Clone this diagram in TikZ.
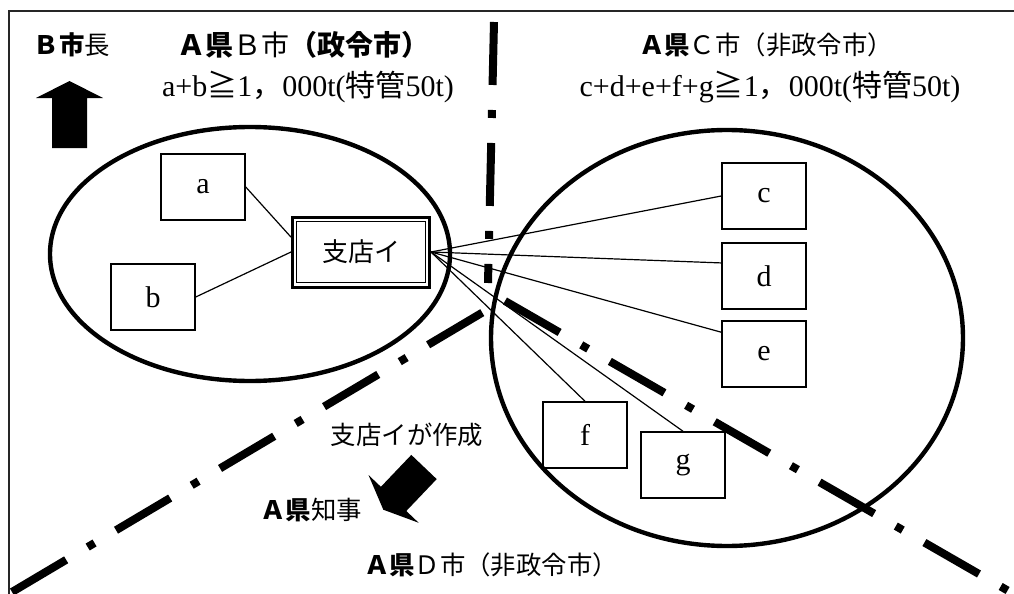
\documentclass[tikz,border=0pt]{standalone}
\usepackage{fontspec}
\setmainfont{Liberation Serif}
\newfontfamily\jp{Noto Sans CJK JP}
\newcommand\bj[1]{{\jp\bfseries #1}}
\newcommand\nj[1]{{\jp #1}}

\begin{document}
\begin{tikzpicture}[x=0.5pt, y=-0.5pt,
  box/.style={draw, line width=0.75pt, minimum width=42pt, minimum height=33pt, inner sep=0pt, font=\fontsize{15}{17}\selectfont},
  branch/.style={draw, line width=1.5pt, minimum width=68.5pt, minimum height=35pt, inner sep=0pt, font=\jp\fontsize{13}{15}\selectfont},
  zone/.style={line width=2.2pt},
  boundary/.style={line width=4pt, dash pattern=on 31.5pt off 12.5pt on 4pt off 12.5pt},
  link/.style={line width=0.6pt},
  lbl/.style={font=\fontsize{12.7}{14}\selectfont, inner sep=0pt},
  sum/.style={font=\fontsize{15}{17}\selectfont, inner sep=0pt}]
\useasboundingbox (0,0) rectangle (1014,594);
\draw[line width=1.2pt, black!85] (9,594) -- (9,11) -- (1014,11);

\draw[boundary] (494,22) -- (488,283);
\draw[boundary] (12,592) -- (485,311);
\draw[boundary] (505,301) -- (1012,593);

\draw[zone] (250,254) ellipse [x radius=100pt, y radius=63.5pt];
\draw[zone] (727,338) ellipse [x radius=118pt, y radius=104pt];

\node[box] (a) at (203,187) {a};
\node[box] (b) at (153,297) {b};
\node[branch] (shiten) at (361,252) {支店イ};
\node[draw, line width=0.6pt, minimum width=64.5pt, minimum height=30.5pt] (shitenin) at (shiten) {};
\node[box] (c) at (764,196) {c};
\node[box] (d) at (764,276) {d};
\node[box] (e) at (764,354) {e};
\node[box] (f) at (585,435) {f};
\node[box] (g) at (683,465) {g};

\draw[link] (a.east) -- (shiten.168);
\draw[link] (b.east) -- (shiten.west);
\foreach \t/\a in {c/west, d/163, e/153, f/north, g/north}
  \draw[link] (shiten.east) -- (\t.\a);

\fill (52,148) -- (52,98) -- (36,98) -- (69.5,81) -- (103,98) -- (87,98) -- (87,148) -- cycle;
\fill (436.7,479.1) -- (411.3,454.9) -- (380.9,486.8) -- (368.5,475.0) -- (383.3,509.7) -- (418.7,522.8) -- (406.3,511.0) -- cycle;

\node[lbl] (mayorB) at (72,45) {\bj{Ｂ市}\nj{長}};
\node[lbl, font=\fontsize{14}{16}\selectfont] (cityB) at (303,45) {\bj{Ａ県}\nj{Ｂ市}\bj{（政令市）}};
\node[sum] (sumB) at (308,87) {a+b\nj{≧}1\nj{，}000t(\nj{特管}50t)};
\node[lbl] (cityC) at (766,45) {\bj{Ａ県}\nj{Ｃ市（非政令市）}};
\node[sum] (sumC) at (770,87) {c+d+e+f+g\nj{≧}1\nj{，}000t(\nj{特管}50t)};
\node[lbl] (made) at (407,435) {\nj{支店イが作成}};
\node[lbl] (governor) at (311,510) {\bj{Ａ県}\nj{知事}};
\node[lbl] (cityD) at (491,565) {\bj{Ａ県}\nj{Ｄ市（非政令市）}};
\end{tikzpicture}
\end{document}
